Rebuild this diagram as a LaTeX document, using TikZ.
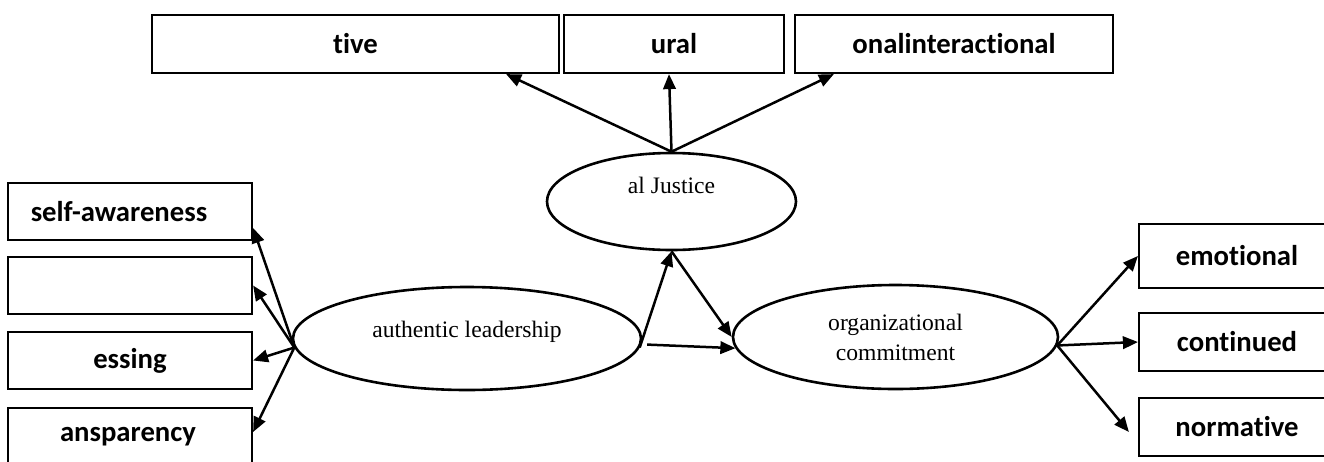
\documentclass[tikz,border=0pt]{standalone}
\usepackage{fontspec}
\setmainfont{Liberation Serif}
\newfontfamily\carlito{Carlito}[Ligatures=NoCommon]
\usetikzlibrary{shapes.geometric,arrows.meta}
\newcommand{\boxlabel}{\carlito\bfseries\fontsize{28.7}{34}\selectfont}
\newcommand{\ovallabel}{\rmfamily\fontsize{23.6}{30}\selectfont}
\newcommand{\liftup}[2]{\raisebox{#1}[\height][\depth]{#2}}
\tikzset{
  labelbox/.style={draw, rectangle, line width=2.2pt, inner sep=0pt, font=\boxlabel},
  oval/.style={draw, ellipse, line width=2.6pt, inner sep=0pt, align=center, font=\ovallabel},
  arr/.style={line width=2.5pt, -{Triangle[length=15pt,width=12.5pt]}}
}
\begin{document}
\begin{tikzpicture}[x=1pt,y=-1pt]
\useasboundingbox[fill=white] (0,0) rectangle (1324,461);
% top boxes
\node[labelbox, minimum width=407pt, minimum height=58pt] (tv) at (355.5,44) {tive};
\node[labelbox, minimum width=220pt, minimum height=58pt] (ur) at (674,44) {ural};
\node[labelbox, minimum width=318pt, minimum height=58pt] (oi) at (954,44) {onalinteractional};
% left boxes
\node[labelbox, minimum width=244pt, minimum height=57pt] (sa) at (130,211.5) {self-awareness\hspace*{22pt}};
\node[labelbox, minimum width=244pt, minimum height=57pt] (e2) at (130,285.5) {};
\node[labelbox, minimum width=244pt, minimum height=57pt] (es) at (130,360.5) {essing};
\node[labelbox, minimum width=244pt, minimum height=57pt] (an) at (130,436.5) {ansparency\hspace*{4pt}};
% right boxes
\node[labelbox, minimum width=196pt, minimum height=64pt] (em) at (1237,256) {emotional};
\node[labelbox, minimum width=196pt, minimum height=58pt] (co) at (1237,342) {continued};
\node[labelbox, minimum width=196pt, minimum height=58pt] (no) at (1237,427) {normative};
% ellipses
\node[oval, minimum width=249pt, minimum height=97pt] (aj) at (671.5,201.5) {\liftup{16pt}{al Justice}};
\node[oval, minimum width=348pt, minimum height=103pt] (al) at (467,338.5) {\liftup{7pt}{authentic leadership}};
\node[oval, minimum width=325pt, minimum height=104pt] (oc) at (895.5,337) {organizational\\commitment};
% arrows to top boxes
\draw[arr] (aj.north) -- ([xshift=-54pt]tv.south east);
\draw[arr] (aj.north) -- ([xshift=-5pt]ur.south);
\draw[arr] (aj.north) -- ([xshift=40pt]oi.south west);
% arrows to left boxes
\draw[arr] (al.183.5) -- ([yshift=-16.5pt]sa.east);
\draw[arr] (al.183.5) -- (e2.east);
\draw[arr] (al.183.5) -- (es.east);
\draw[arr] (al.183.5) -- ([yshift=4.5pt]an.east);
% central arrows
\draw[arr] (al.-3) -- (aj.south);
\draw[arr] ([xshift=6pt]al.-2) -- (oc.184);
\draw[arr] (aj.south) -- (oc.west);
% arrows to right boxes
\draw[arr] (oc.-3) -- (em.west);
\draw[arr] (oc.-3) -- (co.west);
\draw[arr] (oc.-3) -- ([xshift=-9pt,yshift=-5pt]no.west);
\end{tikzpicture}
\end{document}
